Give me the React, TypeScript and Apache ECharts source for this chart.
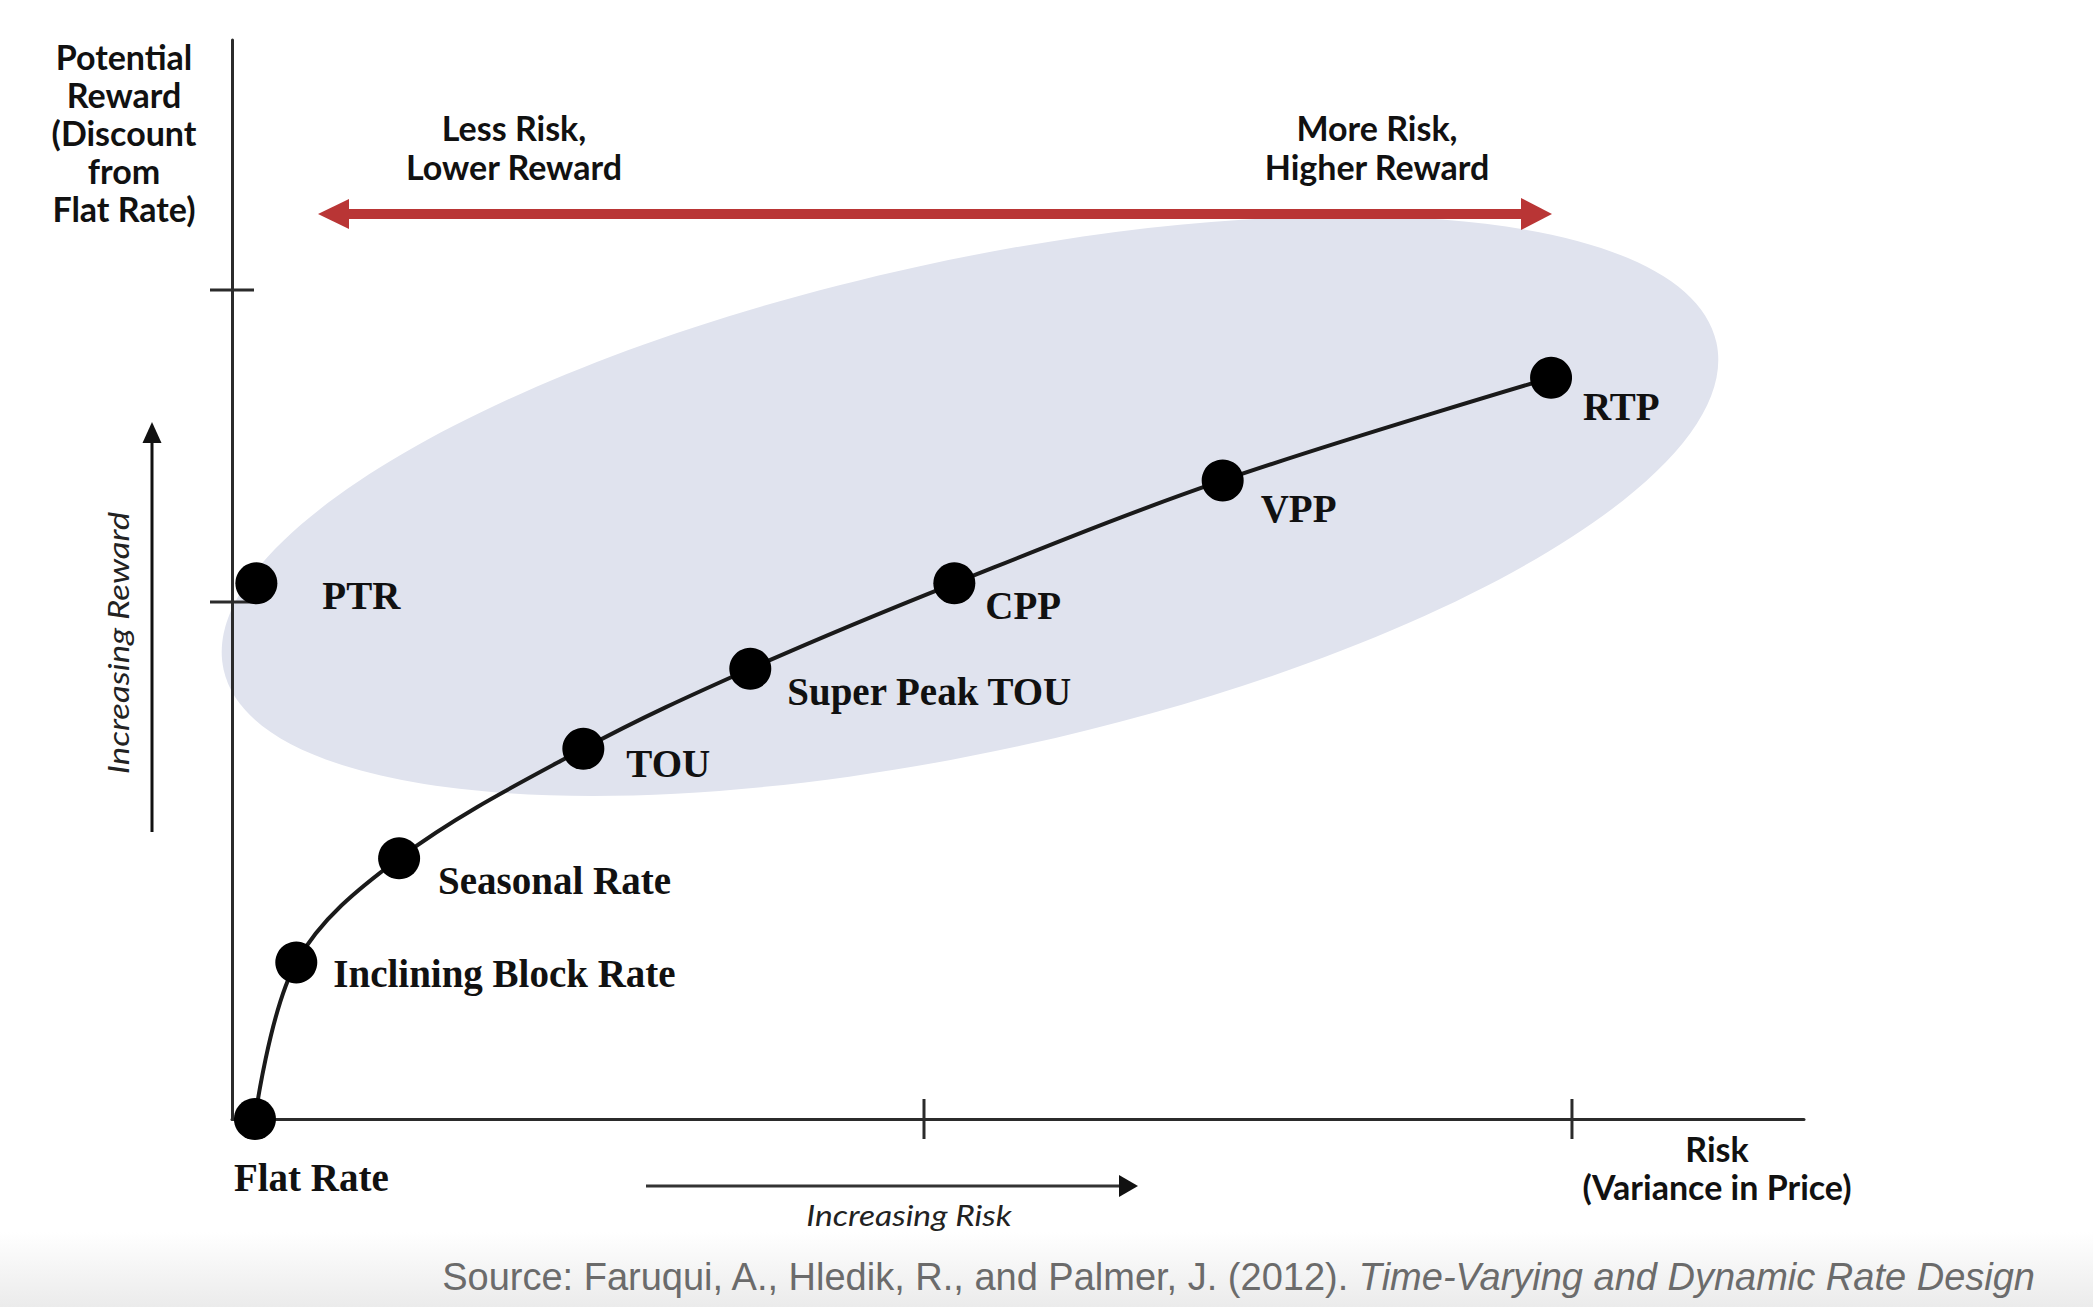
import React, { useEffect, useRef } from 'react';
import * as echarts from 'echarts';

// Rate designs on the risk / reward frontier (axis units 0-100)
const curveNames = [
  'Flat Rate',
  'Inclining Block Rate',
  'Seasonal Rate',
  'TOU',
  'Super Peak TOU',
  'CPP',
  'VPP',
  'RTP',
];
const curveRisk = [1.46, 4.09, 10.63, 22.35, 32.97, 45.95, 63.02, 83.91];
const curveReward = [0, 14.51, 24.16, 34.31, 41.73, 49.65, 59.18, 68.7];

// Stand-alone design (not on the frontier)
const standaloneNames = ['PTR'];
const standaloneRisk = [1.55];
const standaloneReward = [49.65];

// Axis tick marks
const riskTicks = [44.02, 85.24];
const rewardTicks = [47.91, 76.83];

// label placement: [dx, dy] of label's left edge / vertical middle from dot centre (px)
const labelPlacement: Record<string, [number, number]> = {
  'Flat Rate': [-21, 58],
  'Inclining Block Rate': [37, 11],
  'Seasonal Rate': [39, 22],
  TOU: [43, 15],
  'Super Peak TOU': [37, 23],
  CPP: [31, 22],
  VPP: [38, 28],
  RTP: [32, 29],
  PTR: [66, 12],
};

const DOT = 42;
const labelStyle = {
  show: true,
  position: 'right' as const,
  distance: 0,
  formatter: '{b}',
  fontFamily: 'Liberation Serif',
  fontWeight: 'bold' as const,
  fontSize: 39,
  color: '#111111',
};

const sansBold = 'bold 34px Lato';
const AXIS_COLOR = '#2b2b2b';
const RED = '#B93535';

export default function App() {
  const ref = useRef<HTMLDivElement>(null);

  useEffect(() => {
    if (!ref.current) return;
    const chart = echarts.init(ref.current, null, { renderer: 'svg' });

    const mkItem = (n: string, x: number, y: number) => ({
      name: n,
      value: [x, y],
      label: { offset: [labelPlacement[n][0] - DOT / 2, labelPlacement[n][1]] },
    });

    const tickData: number[][] = [
      ...riskTicks.map((v) => [v, 0, 0]),
      ...rewardTicks.map((v) => [0, v, 1]),
    ];

    const option: any = {
      animation: false,
      backgroundColor: '#ffffff',
      grid: { left: 232, top: 40, right: 289, bottom: 188, containLabel: false },
      xAxis: {
        type: 'value',
        min: 0,
        max: 100,
        z: 1,
        axisLine: { show: true, onZero: false, lineStyle: { color: AXIS_COLOR, width: 3 } },
        axisTick: { show: false },
        axisLabel: { show: false },
        splitLine: { show: false },
      },
      yAxis: {
        type: 'value',
        min: 0,
        max: 100,
        z: 1,
        axisLine: { show: true, onZero: false, lineStyle: { color: AXIS_COLOR, width: 3 } },
        axisTick: { show: false },
        axisLabel: { show: false },
        splitLine: { show: false },
      },
      graphic: [
        // faint grey band behind the source line
        {
          type: 'rect',
          z: -6,
          silent: true,
          shape: { x: 0, y: 1232, width: 2093, height: 75 },
          style: {
            fill: new echarts.graphic.LinearGradient(0, 0, 0, 1, [
              { offset: 0, color: '#ffffff' },
              { offset: 1, color: '#ebebeb' },
            ]),
          },
        },
        {
          type: 'ellipse',
          z: -5,
          silent: true,
          x: 970,
          y: 506,
          rotation: (12.35 * Math.PI) / 180,
          shape: { cx: 0, cy: 0, rx: 764, ry: 245 },
          style: { fill: '#E0E3EE' },
        },
        // red double arrow
        {
          type: 'line',
          z: 5,
          shape: { x1: 340, y1: 214, x2: 1530, y2: 214 },
          style: { stroke: RED, lineWidth: 10 },
        },
        {
          type: 'polygon',
          z: 5,
          shape: { points: [[318, 214], [349, 199], [349, 229]] },
          style: { fill: RED },
        },
        {
          type: 'polygon',
          z: 5,
          shape: { points: [[1552, 214], [1521, 198], [1521, 230]] },
          style: { fill: RED },
        },
        // increasing reward arrow
        {
          type: 'line',
          z: 5,
          shape: { x1: 152, y1: 832, x2: 152, y2: 438 },
          style: { stroke: '#111', lineWidth: 3 },
        },
        {
          type: 'polygon',
          z: 5,
          shape: { points: [[152, 422], [142.5, 443], [161.5, 443]] },
          style: { fill: '#111' },
        },
        // increasing risk arrow
        {
          type: 'line',
          z: 5,
          shape: { x1: 646, y1: 1186, x2: 1124, y2: 1186 },
          style: { stroke: '#333', lineWidth: 3 },
        },
        {
          type: 'polygon',
          z: 5,
          shape: { points: [[1138, 1186], [1119, 1175], [1119, 1197]] },
          style: { fill: '#111' },
        },
        // texts
        {
          type: 'text',
          z: 5,
          x: 124,
          y: 132,
          style: {
            text: 'Potential\nReward\n(Discount\nfrom\nFlat Rate)',
            font: sansBold,
            lineHeight: 38,
            fill: '#111',
            align: 'center',
            verticalAlign: 'middle',
          },
        },
        {
          type: 'text',
          z: 5,
          x: 514,
          y: 147,
          style: {
            text: 'Less Risk,\nLower Reward',
            font: sansBold,
            lineHeight: 39,
            fill: '#111',
            align: 'center',
            verticalAlign: 'middle',
          },
        },
        {
          type: 'text',
          z: 5,
          x: 1377,
          y: 147,
          style: {
            text: 'More Risk,\nHigher Reward',
            font: sansBold,
            lineHeight: 39,
            fill: '#111',
            align: 'center',
            verticalAlign: 'middle',
          },
        },
        {
          type: 'text',
          z: 5,
          x: 1717,
          y: 1167,
          style: {
            text: 'Risk\n(Variance in Price)',
            font: sansBold,
            lineHeight: 38,
            fill: '#111',
            align: 'center',
            verticalAlign: 'middle',
          },
        },
        {
          type: 'text',
          z: 5,
          x: 118,
          y: 643,
          rotation: Math.PI / 2,
          scaleX: 1.2,
          style: {
            text: 'Increasing Reward',
            font: 'italic 29px Lato',
            fill: '#222',
            align: 'center',
            verticalAlign: 'middle',
          },
        },
        {
          type: 'text',
          z: 5,
          x: 909,
          y: 1215,
          scaleX: 1.2,
          style: {
            text: 'Increasing Risk',
            font: 'italic 28px Lato',
            fill: '#222',
            align: 'center',
            verticalAlign: 'middle',
          },
        },
        {
          type: 'text',
          z: 5,
          x: 2035,
          y: 1277,
          style: {
            text:
              '{a|Source: Faruqui, A., Hledik, R., and Palmer, J. (2012). }{b|Time-Varying and Dynamic Rate Design}',
            align: 'right',
            verticalAlign: 'middle',
            rich: {
              a: { fontFamily: 'Liberation Sans', fontSize: 38, fill: '#6b6b6b', color: '#6b6b6b' },
              b: {
                fontFamily: 'Liberation Sans',
                fontSize: 38,
                fontStyle: 'italic',
                fill: '#6b6b6b',
                color: '#6b6b6b',
              },
            },
          },
        },
      ],
      series: [
        {
          name: 'Frontier',
          type: 'line',
          z: 3,
          clip: false,
          smooth: 0.35,
          symbol: 'circle',
          symbolSize: DOT,
          lineStyle: { color: '#1a1a1a', width: 4 },
          itemStyle: { color: '#000000', opacity: 1 },
          label: labelStyle,
          data: curveNames.map((n, i) => mkItem(n, curveRisk[i], curveReward[i])),
        },
        {
          name: 'Standalone',
          type: 'scatter',
          z: 3,
          clip: false,
          symbol: 'circle',
          symbolSize: DOT,
          itemStyle: { color: '#000000', opacity: 1 },
          label: labelStyle,
          data: standaloneNames.map((n, i) => mkItem(n, standaloneRisk[i], standaloneReward[i])),
        },
        {
          name: 'Ticks',
          type: 'custom',
          z: 2,
          clip: false,
          silent: true,
          data: tickData,
          renderItem: (_params: any, api: any) => {
            const p = api.coord([api.value(0), api.value(1)]);
            const vertical = api.value(2) === 0;
            return {
              type: 'line',
              shape: vertical
                ? { x1: p[0], y1: p[1] - 20, x2: p[0], y2: p[1] + 20 }
                : { x1: p[0] - 22, y1: p[1], x2: p[0] + 22, y2: p[1] },
              style: { stroke: AXIS_COLOR, lineWidth: 3 },
            };
          },
        },
      ],
    };

    chart.setOption(option);
    return () => chart.dispose();
  }, []);

  return (
    <div
      ref={ref}
      style={{ position: 'absolute', left: 0, top: 0, width: 2093, height: 1307, background: '#fff' }}
    />
  );
}
